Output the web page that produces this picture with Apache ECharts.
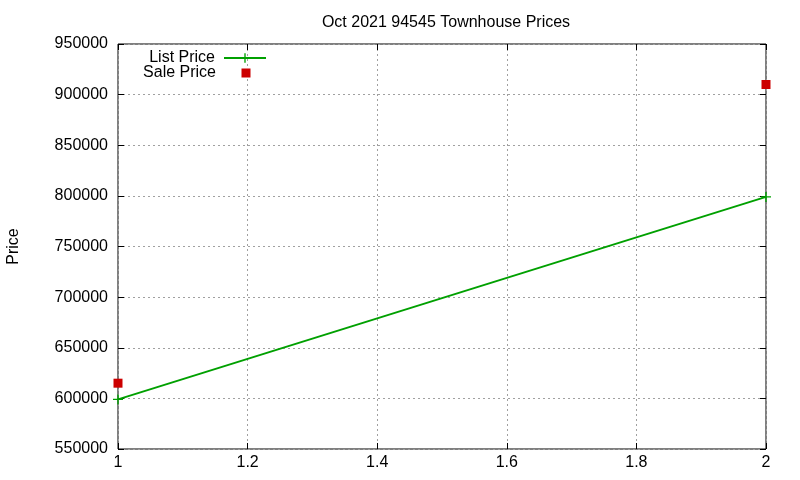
<!DOCTYPE html>
<html><head><meta charset="utf-8">
<script src="https://cdn.jsdelivr.net/npm/echarts@6/dist/echarts.min.js"></script>
<style>html,body{margin:0;padding:0;background:#fff}#c{width:800px;height:480px}</style>
</head><body><div id="c"></div>
<script>
const xValues = [1, 2];
const listPrice = [599000, 799000];
const salePrice = [615000, 910000];
const seriesNames = ['List Price', 'Sale Price'];
const titleText = 'Oct 2021 94545 Townhouse Prices';
const yName = 'Price';

const font = 'Liberation Sans, Arial, sans-serif';
const chart = echarts.init(document.getElementById('c'));
const gridLine = {show: true, lineStyle: {color: '#a0a0a0', type: [2, 3], width: 1}};
const plusPath = 'path://M4.3,0H5.7V4.3H10V5.7H5.7V10H4.3V5.7H0V4.3H4.3Z';
const squareIcon = 'path://M0,0H0.01V0.01H0Z M16.5,0H25.5V9H16.5Z M41.99,8.99H42V9H41.99Z';
const legendText = {fontFamily: font, fontSize: 16, color: '#000', padding: [0, 4, 0, 0]};
chart.setOption({
  animation: false,
  title: {text: titleText, left: 441, top: 10, textAlign: 'center',
    textStyle: {fontFamily: font, fontSize: 16, fontWeight: 'normal', color: '#000'}},
  grid: {left: 118, right: 34, top: 44, bottom: 31, show: true, borderColor: '#000', borderWidth: 1,
    containLabel: false, outerBoundsMode: 'none'},
  legend: [
    {data: [seriesNames[0]], orient: 'vertical', align: 'right', right: 533, top: 50, padding: 0,
      itemWidth: 42, itemHeight: 12, textStyle: legendText},
    {data: [{name: seriesNames[1], icon: squareIcon}], orient: 'vertical', align: 'right', right: 533, top: 65, padding: 0,
      itemWidth: 42, itemHeight: 9, textStyle: legendText}
  ],
  xAxis: [
    {type: 'value', min: 1, max: 2, interval: 0.2, position: 'bottom',
      axisLine: {show: false}, axisTick: {inside: true, length: 6, lineStyle: {color: '#000'}},
      axisLabel: {fontFamily: font, fontSize: 16, color: '#000', margin: 6},
      splitLine: gridLine},
    {type: 'value', min: 1, max: 2, interval: 0.2, position: 'top',
      axisLine: {show: false}, axisTick: {inside: true, length: 6, lineStyle: {color: '#000'}},
      axisLabel: {show: false}, splitLine: {show: false}}
  ],
  yAxis: [
    {type: 'value', min: 550000, max: 950000, interval: 50000, position: 'left',
      name: yName, nameLocation: 'middle', nameGap: 96, nameRotate: 90,
      nameTextStyle: {fontFamily: font, fontSize: 16, color: '#000'},
      axisLine: {show: false}, axisTick: {inside: true, length: 6, lineStyle: {color: '#000'}},
      axisLabel: {fontFamily: font, fontSize: 16, color: '#000', margin: 10, formatter: v => String(v)},
      splitLine: gridLine},
    {type: 'value', min: 550000, max: 950000, interval: 50000, position: 'right',
      axisLine: {show: false}, axisTick: {inside: true, length: 6, lineStyle: {color: '#000'}},
      axisLabel: {show: false}, splitLine: {show: false}}
  ],
  series: [
    {name: seriesNames[0], type: 'line', data: xValues.map((x, i) => [x, listPrice[i]]),
      symbol: plusPath, symbolSize: 10, showSymbol: true,
      lineStyle: {color: '#00a000', width: 2}, itemStyle: {color: '#00a000'}, z: 3},
    {name: seriesNames[1], type: 'scatter', data: xValues.map((x, i) => [x, salePrice[i]]),
      symbol: 'rect', symbolSize: 9, itemStyle: {color: '#cc0000', opacity: 1}, z: 4}
  ]
});
</script></body></html>
